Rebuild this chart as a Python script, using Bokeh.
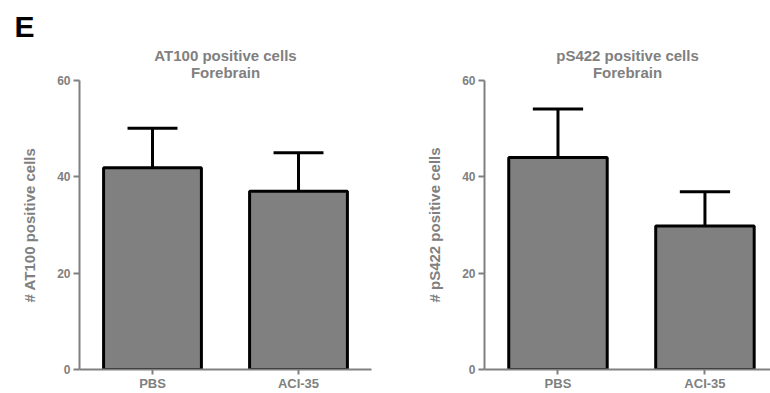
from bokeh.plotting import figure
from bokeh.layouts import row
from bokeh.models import Range1d, FixedTicker, Title
from bokeh.embed import file_html
from bokeh.resources import INLINE

groups = ["PBS", "ACI-35"]
at100_means = [41.9, 37.0]
at100_sem = [8.2, 8.0]
ps422_means = [44.0, 29.8]
ps422_sem = [10.1, 7.1]
y_ticks = [0, 20, 40, 60]

GRAY = "#808080"
FONT = "Liberation Sans"


def make_panel(means, sems, title1, title2, ylabel, width, min_left, min_right, x_end, panel_letter=""):
    xs = [i + 0.5 for i in range(len(groups))]
    p = figure(width=width, height=393, x_range=Range1d(0, x_end), y_range=Range1d(0, 60),
               output_backend="svg", toolbar_location=None,
               min_border_left=min_left, min_border_right=min_right,
               min_border_top=80, min_border_bottom=0)
    p.outline_line_color = None
    p.xgrid.grid_line_color = None
    p.ygrid.grid_line_color = None

    # panel letter as the outermost title
    p.title.text = panel_letter
    p.title.align = "left"
    p.title.offset = -65
    p.title.text_font = FONT
    p.title.text_font_size = "30px"
    p.title.text_font_style = "bold"
    p.title.text_color = "black"
    p.title.standoff = 7

    p.add_layout(Title(text=title2, align="center", text_font=FONT, text_font_size="15px",
                       text_font_style="bold", text_color=GRAY, standoff=0), "above")
    p.add_layout(Title(text=title1, align="center", text_font=FONT, text_font_size="15px",
                       text_font_style="bold", text_color=GRAY, standoff=-4), "above")

    uppers = [m + s for m, s in zip(means, sems)]
    p.segment(x0=xs, y0=means, x1=xs, y1=uppers, line_color="black", line_width=3)
    p.segment(x0=[x - 0.171 for x in xs], y0=uppers, x1=[x + 0.171 for x in xs], y1=uppers,
              line_color="black", line_width=3)
    p.vbar(x=xs, top=means, bottom=0, width=0.67, fill_color=GRAY, line_color="black", line_width=3)

    for ax in (p.xaxis[0], p.yaxis[0]):
        ax.axis_line_color = GRAY
        ax.axis_line_width = 2
        ax.major_tick_line_color = GRAY
        ax.major_tick_line_width = 2
        ax.major_tick_in = 0
        ax.minor_tick_line_color = None
        ax.major_label_text_font = FONT
        ax.major_label_text_font_style = "bold"
        ax.major_label_text_color = GRAY

    p.xaxis.ticker = FixedTicker(ticks=xs)
    p.xaxis.major_label_overrides = {x: g for x, g in zip(xs, groups)}
    p.xaxis.major_tick_out = 5
    p.xaxis.major_label_standoff = 1
    p.xaxis.major_label_text_font_size = "13px"

    p.yaxis.ticker = FixedTicker(ticks=y_ticks)
    p.yaxis.major_tick_out = 6
    p.yaxis.major_label_standoff = 3
    p.yaxis.major_label_text_font_size = "12px"
    p.yaxis.axis_label = ylabel
    p.yaxis.axis_label_text_font = FONT
    p.yaxis.axis_label_text_font_style = "bold"
    p.yaxis.axis_label_text_font_size = "15px"
    p.yaxis.axis_label_text_color = GRAY
    p.yaxis.axis_label_standoff = 16
    return p


p1 = make_panel(at100_means, at100_sem, "AT100 positive cells", "Forebrain",
                "# AT100 positive cells", 385, 79, 14, 2.0, panel_letter="E")
p2 = make_panel(ps422_means, ps422_sem, "pS422 positive cells", "Forebrain",
                "# pS422 positive cells", 385, 99, 0, 1.946)

p = row(p1, p2)
open("out.html", "w").write(file_html(p, INLINE))
